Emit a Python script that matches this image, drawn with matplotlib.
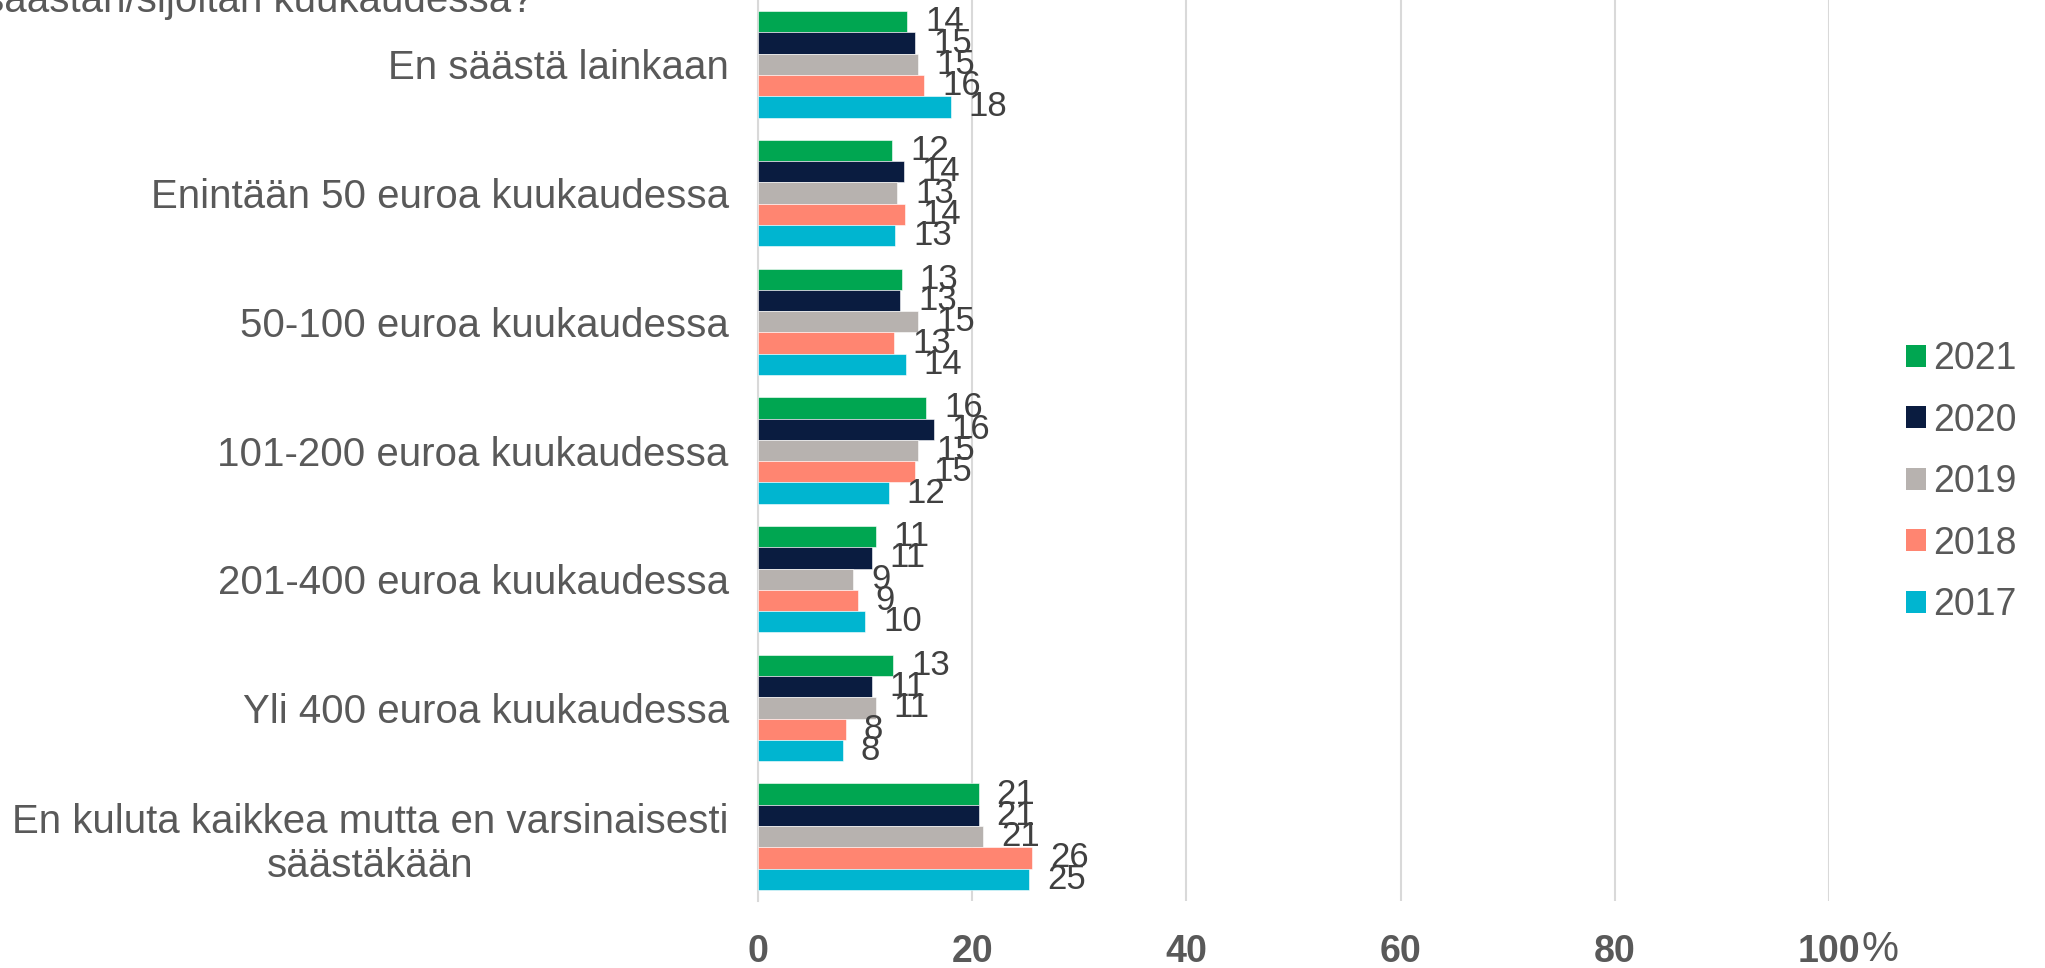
import matplotlib
matplotlib.use("Agg")
import matplotlib.pyplot as plt
from matplotlib.patches import Patch
import numpy as np

categories = [
    "En säästä lainkaan",
    "Enintään 50 euroa kuukaudessa",
    "50-100 euroa kuukaudessa",
    "101-200 euroa kuukaudessa",
    "201-400 euroa kuukaudessa",
    "Yli 400 euroa kuukaudessa",
    "En kuluta kaikkea mutta en varsinaisesti\nsäästäkään",
]
years = ["2021", "2020", "2019", "2018", "2017"]

v2021 = [13.9, 12.5, 13.4, 15.7, 11.0, 12.6, 20.6]
v2020 = [14.7, 13.6, 13.3, 16.4, 10.6, 10.6, 20.6]
v2019 = [14.95, 13.0, 14.95, 14.95, 8.9, 11.0, 21.0]
v2018 = [15.5, 13.7, 12.7, 14.7, 9.3, 8.2, 25.6]
v2017 = [18.0, 12.8, 13.8, 12.2, 10.0, 7.9, 25.3]

lab2021 = [14, 12, 13, 16, 11, 13, 21]
lab2020 = [15, 14, 13, 16, 11, 11, 21]
lab2019 = [15, 13, 15, 15, 9, 11, 21]
lab2018 = [16, 14, 13, 15, 9, 8, 26]
lab2017 = [18, 13, 14, 12, 10, 8, 25]

xticks = [0, 20, 40, 60, 80, 100]
title_text = "säästän/sijoitan kuukaudessa?"

colors = ["#00A651", "#0A1C40", "#B7B2AF", "#FF8571", "#00B5D0"]
series = [v2021, v2020, v2019, v2018, v2017]
labels = [lab2021, lab2020, lab2019, lab2018, lab2017]

TXT = "#595959"
plt.rcParams['font.family'] = ['Liberation Sans', 'DejaVu Sans']

fig = plt.figure(figsize=(20.45, 9.68), dpi=100)
ax = fig.add_axes([758/2045, 1 - 901/968, (1829-758)/2045, 901/968])

y = np.arange(len(categories))
h = 0.1655
for j, (vals, col, labs) in enumerate(zip(series, colors, labels)):
    bars = ax.barh(y + (j - 2) * h, vals, height=h, color=col,
                   edgecolor='white', linewidth=0.4, label=years[j], zorder=3)
    ax.bar_label(bars, labels=[str(l) for l in labs], padding=13,
                 fontsize=25, color="#404040")

ax.set_xlim(0, 100)
ax.set_ylim(len(categories) - 0.5, -0.5)
ax.set_xticks(xticks)
ax.set_xticklabels([str(t) for t in xticks])
ax.set_yticks(y)
ax.set_yticklabels(categories, multialignment='center')
ax.tick_params(axis='x', length=0, pad=24, labelsize=27, labelcolor=TXT)
for t in ax.get_xticklabels():
    t.set_fontweight('bold')
ax.tick_params(axis='y', length=0, pad=21, labelsize=29, labelcolor=TXT)

ax.xaxis.grid(True, color="#D9D9D9", linewidth=1.5, zorder=0)
ax.set_axisbelow(True)
for s in ['top', 'right', 'bottom']:
    ax.spines[s].set_visible(False)
ax.spines['left'].set_color("#D9D9D9")
ax.spines['left'].set_linewidth(1.5)

ax.annotate('%', xy=(100, 0), xycoords=('data', 'axes fraction'),
            xytext=(23.5, -21), textcoords='offset points',
            ha='left', va='top', fontsize=30, color=TXT)

fig.text(534/2045, 1 - 12/968, title_text, ha='right', va='baseline',
         fontsize=29, color=TXT)

handles = [Patch(facecolor=c, edgecolor='none') for c in colors]
fig.legend(handles, years, loc='center left', bbox_to_anchor=(1906/2045, 0.502),
           frameon=False, fontsize=27, labelcolor=TXT, handlelength=0.53,
           handleheight=0.53, handletextpad=0.2, labelspacing=0.68,
           borderpad=0, borderaxespad=0)

fig.savefig("out.png", dpi=100)
